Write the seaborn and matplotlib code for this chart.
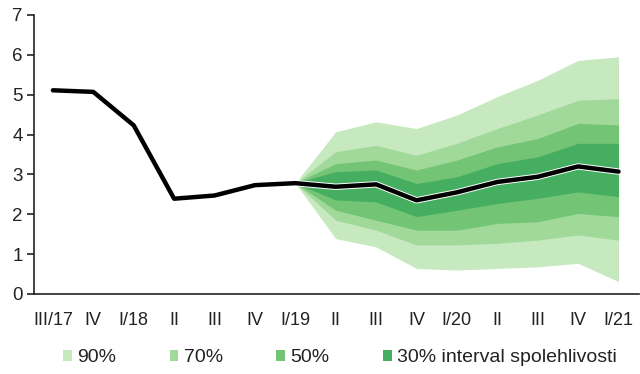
import matplotlib
matplotlib.use("Agg")
import matplotlib.pyplot as plt
import matplotlib.patheffects as pe
from matplotlib.patches import Patch
import seaborn as sns
import pandas as pd
import numpy as np

sns.set_theme(style="white")
plt.rcParams['font.family'] = ['Liberation Sans', 'DejaVu Sans']

quarters = ["III/17", "IV", "I/18", "II", "III", "IV", "I/19", "II", "III", "IV",
            "I/20", "II", "III", "IV", "I/21"]
central = [5.11, 5.07, 4.23, 2.39, 2.47, 2.73, 2.78, 2.69, 2.75, 2.35,
           2.55, 2.81, 2.94, 3.20, 3.07]

# fan starts at I/19 (index 6)
fan_start = 6
up90 = [2.78, 4.07, 4.32, 4.15, 4.49, 4.95, 5.36, 5.86, 5.95]
lo90 = [2.78, 1.39, 1.18, 0.64, 0.60, 0.64, 0.68, 0.77, 0.31]
up70 = [2.78, 3.57, 3.73, 3.48, 3.78, 4.15, 4.49, 4.86, 4.90]
lo70 = [2.78, 1.85, 1.60, 1.23, 1.23, 1.27, 1.35, 1.48, 1.35]
up50 = [2.78, 3.27, 3.36, 3.11, 3.36, 3.69, 3.90, 4.28, 4.24]
lo50 = [2.78, 2.10, 1.85, 1.60, 1.60, 1.77, 1.81, 2.02, 1.94]
up30 = [2.78, 3.07, 3.11, 2.77, 2.94, 3.27, 3.44, 3.78, 3.78]
lo30 = [2.78, 2.36, 2.31, 1.94, 2.10, 2.27, 2.40, 2.56, 2.44]

legend_labels = ["90%", "70%", "50%", "30% interval spolehlivosti"]
colors = ["#c7e9c0", "#a1d99b", "#74c476", "#45ae60"]

fig = plt.figure(figsize=(6.4, 3.74), dpi=100)
ax = fig.add_axes([0.053, 0.214, 0.945, 0.746])

xs = np.arange(len(quarters))
fx = xs[fan_start:]
for (lo, up), c in zip([(lo90, up90), (lo70, up70), (lo50, up50), (lo30, up30)], colors):
    ax.fill_between(fx, lo, up, color=c, linewidth=0)

df = pd.DataFrame({"x": xs, "y": central})
sns.lineplot(data=df, x="x", y="y", ax=ax, color="black", linewidth=3.2,
             path_effects=[pe.Stroke(linewidth=4.6, foreground="white"), pe.Normal()])

ax.set_xlim(-0.47, 14.5)
ax.set_ylim(0, 7)
ax.set_yticks(range(0, 8))
ax.set_xticks(xs)
ax.set_xticklabels(quarters)
ax.set_xlabel("")
ax.set_ylabel("")
for s in ["top", "right"]:
    ax.spines[s].set_visible(False)
for s in ["left", "bottom"]:
    ax.spines[s].set_color("#222222")
    ax.spines[s].set_linewidth(1.2)
ax.tick_params(axis="y", which="major", left=True, length=5, width=1.2, color="#222222",
               labelsize=13.5, pad=3, labelcolor="#222222")
ax.tick_params(axis="x", which="major", bottom=False, labelsize=13, pad=7, labelcolor="#222222")

handles = [Patch(facecolor=c, edgecolor="none") for c in colors]
fig.legend(handles, legend_labels, loc="center", ncol=4, frameon=False,
           bbox_to_anchor=(0.531, 0.043), fontsize=14, handlelength=0.46, handleheight=0.46,
           handletextpad=0.26, columnspacing=2.75, labelcolor="#222222",
           borderpad=0, borderaxespad=0)

fig.savefig("out.png", dpi=100)
